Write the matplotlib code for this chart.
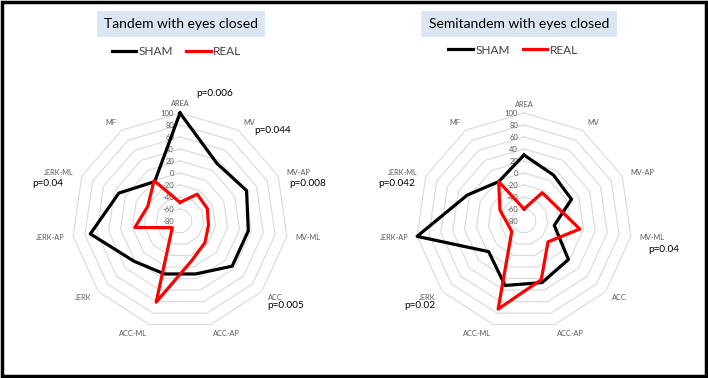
import numpy as np
import matplotlib.pyplot as plt
import matplotlib.transforms as mtransforms
from matplotlib.patches import Rectangle

plt.rcParams['font.family'] = ['Lato', 'DejaVu Sans']

# datos
categories = ["AREA", "MV", "MV-AP", "MV-ML", "ACC", "ACC-AP",
              "ACC-ML", "JERK", "JERK-AP", "JERK-ML", "MF"]
tandem_sham = [100, 34, 42, 35, 35, 12, 12, 22, 71, 32, -2]
tandem_real = [-49, -27, -30, -32, -25, -11, 61, -63, -4, -21, 0]
semi_sham = [30, 11, 7, -29, 18, 27, 32, -2, 100, 24, -2]
semi_real = [-60, -24, -21, 14, -27, 22, 73, -53, -52, -36, -2]

grid_levels = [-60, -40, -20, 0, 20, 40, 60, 80, 100]
tick_levels = [-80, -60, -40, -20, 0, 20, 40, 60, 80, 100]

tandem_pvals = [("p=0.006", 215, 93), ("p=0.044", 273, 131), ("p=0.008", 308, 183),
                ("p=0.005", 286, 306), ("p=0.04", 48, 184)]
semi_pvals = [("p=0.042", 397, 184), ("p=0.04", 664, 250), ("p=0.02", 420, 306)]

W, H = 708, 378
fig = plt.figure(figsize=(W / 100, H / 100), dpi=100)

def radar(ax, sham, real):
    n = len(categories)
    ang = np.linspace(0, 2 * np.pi, n, endpoint=False)
    ang_c = np.append(ang, ang[0])
    ax.set_theta_zero_location('N')
    ax.set_theta_direction(-1)
    ax.set_ylim(-80, 100)
    for lv in grid_levels:
        ax.plot(ang_c, [lv] * (n + 1), color='#d9d9d9', lw=0.8, zorder=1, clip_on=False)
    l1, = ax.plot(ang_c, sham + [sham[0]], color='black', lw=2.3, zorder=3,
                  label='SHAM', clip_on=False)
    l2, = ax.plot(ang_c, real + [real[0]], color='#ff0000', lw=2.3, zorder=4,
                  label='REAL', clip_on=False)
    ax.set_axis_off()
    off = mtransforms.offset_copy(ax.transData, fig=fig, x=-6, y=0, units='dots')
    for lv in tick_levels:
        ax.text(0, lv, str(lv), transform=off, ha='right', va='center',
                fontsize=5.5, color='#595959', zorder=2)
    for a, c in zip(ang, categories):
        s = np.sin(a)
        ha = 'left' if s > 0.2 else ('right' if s < -0.2 else 'center')
        ax.text(a, 115, c, ha=ha, va='center', fontsize=5.3, color='#595959')
    return l1, l2

ax1 = fig.add_axes([72 / W, 1 - 329 / H, 216 / W, 216 / H], projection='polar')
ax2 = fig.add_axes([416 / W, 1 - 329 / H, 216 / W, 216 / H], projection='polar')
h1 = radar(ax1, tandem_sham, tandem_real)
h2 = radar(ax2, semi_sham, semi_real)

# titulos con caja azul
for (x0, x1, txt) in [(97, 265, "Tandem with eyes closed"), (421, 617, "Semitandem with eyes closed")]:
    fig.patches.append(Rectangle((x0 / W, 1 - 37 / H), (x1 - x0) / W, 26 / H,
                                 transform=fig.transFigure, facecolor='#dce6f2',
                                 edgecolor='none', zorder=0))
    fig.text((x0 + x1) / 2 / W, 1 - 24.5 / H, txt, ha='center', va='center', fontsize=10)

# leyendas
for hh, cx, cy in [(h1, 176.5, 51.5), (h2, 513, 50)]:
    fig.legend(handles=list(hh), loc='center', bbox_to_anchor=(cx / W, 1 - cy / H),
               ncol=2, frameon=False, fontsize=8.5, handlelength=2.1,
               handletextpad=0.2, columnspacing=1.1, labelcolor='#404040')

for txt, x, y in tandem_pvals + semi_pvals:
    fig.text(x / W, 1 - y / H, txt, ha='center', va='center', fontsize=7.2)

fig.patches.append(Rectangle((0.003, 0.005), 0.994, 0.99, transform=fig.transFigure,
                             fill=False, lw=2.5, edgecolor='black'))

fig.savefig('out.png', dpi=100)
